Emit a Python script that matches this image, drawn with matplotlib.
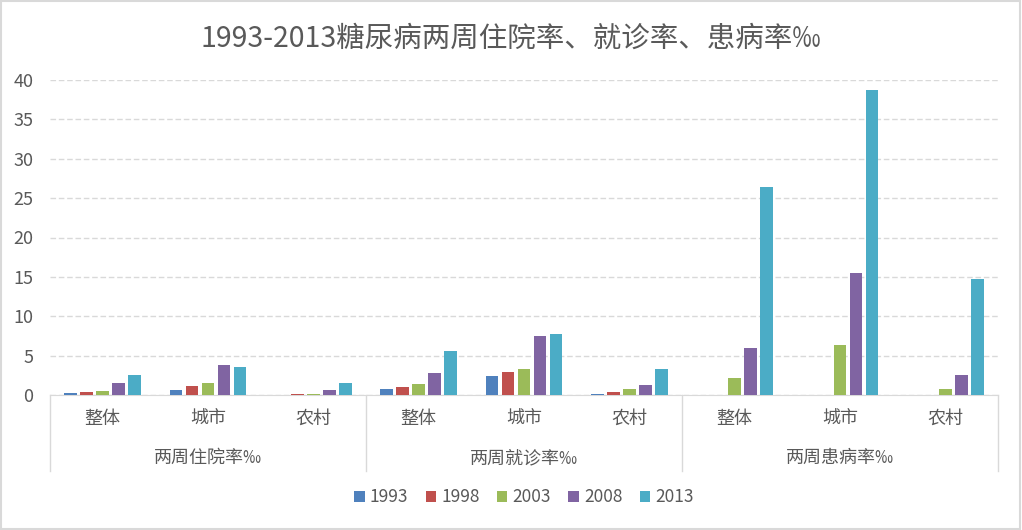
import matplotlib.pyplot as plt
import numpy as np

plt.rcParams['font.family'] = ['Noto Sans CJK SC', 'DejaVu Sans']

groups = ['两周住院率‰', '两周就诊率‰', '两周患病率‰']
subcats = ['整体', '城市', '农村']
years = ['1993', '1998', '2003', '2008', '2013']
colors = ['#4F81BD', '#C0504D', '#9BBB59', '#8064A2', '#4BACC6']

# values per year, 9 categories (3 groups x 3 subcats)
v1993 = [0.2, 0.65, 0.05, 0.7, 2.35, 0.15, np.nan, np.nan, np.nan]
v1998 = [0.4, 1.15, 0.15, 1.05, 2.95, 0.4, np.nan, np.nan, np.nan]
v2003 = [0.55, 1.5, 0.1, 1.45, 3.3, 0.7, 2.2, 6.3, 0.8]
v2008 = [1.55, 3.85, 0.65, 2.85, 7.55, 1.3, 6.0, 15.5, 2.6]
v2013 = [2.6, 3.6, 1.55, 5.6, 7.8, 3.3, 26.45, 38.7, 14.7]
series = [v1993, v1998, v2003, v2008, v2013]

fig = plt.figure(figsize=(10.22, 5.30), dpi=100)
ax = fig.add_axes([50 / 1022, (530 - 395) / 530, 948 / 1022, 315 / 530])

x = np.arange(len(v2013))
step = 0.152
width = 0.12
for i, (vals, c, lab) in enumerate(zip(series, colors, years)):
    ax.bar(x + (i - 2) * step, vals, width=width, color=c, label=lab, zorder=3)

ax.set_xlim(-0.5, len(x) - 0.5)
ax.set_ylim(0, 40)
ax.set_yticks(range(0, 41, 5))
ax.yaxis.grid(True, color='#D9D9D9', linestyle=(0, (4, 2)), linewidth=1, zorder=0)
for s in ['top', 'right', 'left']:
    ax.spines[s].set_visible(False)
ax.spines['bottom'].set_color('#D9D9D9')
ax.tick_params(axis='y', length=0, labelsize=13, labelcolor='#595959', pad=12)
ax.set_xticks([])

# subcategory and group labels
for i in range(len(x)):
    ax.text(i, -3.0, subcats[i % 3], ha='center', va='center', fontsize=13,
            color='#595959')
for g, name in enumerate(groups):
    ax.text(3 * g + 1, -8.0, name, ha='center', va='center', fontsize=13,
            color='#595959')
for b in [-0.5, 2.5, 5.5, 8.5]:
    ax.plot([b, b], [0, -9.6], color='#D9D9D9', linewidth=1, clip_on=False)

fig.suptitle('1993-2013糖尿病两周住院率、就诊率、患病率‰', y=0.955, fontsize=20.5,
             color='#595959')

ax.legend(loc='center', bbox_to_anchor=(0.5, -0.325), ncol=5, frameon=False,
          fontsize=12.5, handlelength=0.6, handleheight=0.6, handletextpad=0.3,
          columnspacing=1.0, labelcolor='#595959')

fig.patches.append(plt.Rectangle((0.001, 0.001), 0.997, 0.997, transform=fig.transFigure,
                                 fill=False, edgecolor='#D9D9D9', linewidth=1.5))

fig.savefig('out.png', dpi=100)
